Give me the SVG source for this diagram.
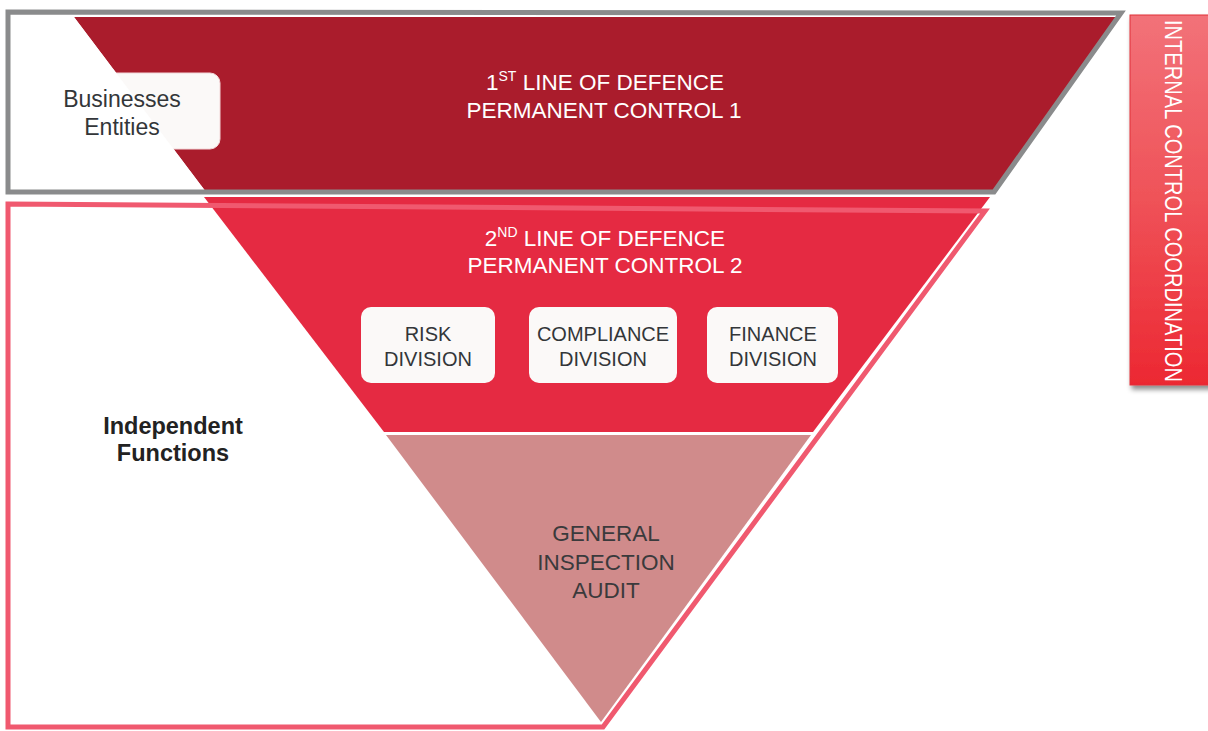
<svg xmlns="http://www.w3.org/2000/svg" width="1208" height="731" viewBox="0 0 1208 731">
<defs>
<linearGradient id="icc" x1="0" y1="0" x2="0" y2="1">
<stop offset="0" stop-color="#f27279"/>
<stop offset="0.5" stop-color="#ef5258"/>
<stop offset="1" stop-color="#ec2832"/>
</linearGradient>
<filter id="sh" x="-20%" y="-5%" width="150%" height="115%">
<feDropShadow dx="2" dy="4" stdDeviation="2.5" flood-color="#000" flood-opacity="0.45"/>
</filter>
<style>
.t{font-family:"Liberation Sans",Arial,sans-serif;}
.w{fill:#ffffff;font-size:22.5px;}
.d{fill:#333639;font-size:20px;}
.box{fill:#fbf9f8;stroke:#f2d6d8;stroke-width:1;}
</style>
</defs>
<rect width="1208" height="731" fill="#ffffff"/>

<g id="first-line">
<polygon points="74,17 1119,17 993,192 206,192" fill="#aa1c2c"/>
<text class="t w" x="605" y="90" text-anchor="middle">1<tspan font-size="14" dy="-9">ST</tspan><tspan dy="9"> LINE OF DEFENCE</tspan></text>
<text class="t w" x="604" y="118" text-anchor="middle">PERMANENT CONTROL 1</text>
</g>

<g id="businesses">
<rect class="box" x="40" y="73" width="180" height="76" rx="10"/>
<polygon points="0,40 74,17 206,192 0,192" fill="#ffffff"/>
<polygon points="8,12 1121,13 994,192 8,192" fill="none" stroke="#8a8b8c" stroke-width="5"/>
<text class="t" x="122" y="107" text-anchor="middle" font-size="23" fill="#333639">Businesses</text>
<text class="t" x="122" y="135" text-anchor="middle" font-size="23" fill="#333639">Entities</text>
</g>

<g id="second-line">
<polygon points="204,197 990,197 813,432 384,432" fill="#e52a42"/>
<polygon points="8,204 985,211 603,727 8,727" fill="none" stroke="#f0596f" stroke-width="5" stroke-linejoin="miter"/>
<text class="t w" x="605" y="246" text-anchor="middle">2<tspan font-size="14" dy="-9">ND</tspan><tspan dy="9"> LINE OF DEFENCE</tspan></text>
<text class="t w" x="605" y="273" text-anchor="middle">PERMANENT CONTROL 2</text>
</g>

<g id="risk">
<rect x="361" y="307" width="134" height="76" rx="10" fill="#fbf9f8"/>
<text class="t d" x="428" y="341" text-anchor="middle">RISK</text>
<text class="t d" x="428" y="366" text-anchor="middle">DIVISION</text>
</g>
<g id="compliance">
<rect x="529" y="307" width="148" height="76" rx="10" fill="#fbf9f8"/>
<text class="t d" x="603" y="341" text-anchor="middle">COMPLIANCE</text>
<text class="t d" x="603" y="366" text-anchor="middle">DIVISION</text>
</g>
<g id="finance">
<rect x="707" y="307" width="131" height="76" rx="10" fill="#fbf9f8"/>
<text class="t d" x="773" y="341" text-anchor="middle">FINANCE</text>
<text class="t d" x="773" y="366" text-anchor="middle">DIVISION</text>
</g>

<g id="audit">
<polygon points="386,435 811,435 601,722" fill="#d08b8b"/>
<text class="t" x="606" y="541" text-anchor="middle" font-size="22.5" fill="#3a3a3c">GENERAL</text>
<text class="t" x="606" y="570" text-anchor="middle" font-size="22.5" fill="#3a3a3c">INSPECTION</text>
<text class="t" x="606" y="598" text-anchor="middle" font-size="22.5" fill="#3a3a3c">AUDIT</text>
</g>

<g id="independent">
<text class="t" x="173" y="434" text-anchor="middle" font-size="23.5" font-weight="bold" fill="#222222">Independent</text>
<text class="t" x="173" y="461" text-anchor="middle" font-size="23.5" font-weight="bold" fill="#222222">Functions</text>
</g>

<g id="internal-control">
<rect x="1130" y="15" width="84" height="370" fill="url(#icc)" stroke="#e0303a" stroke-width="1" filter="url(#sh)"/>
<text class="t" transform="translate(1165,20) rotate(90)" font-size="24" fill="#ffffff" textLength="362" lengthAdjust="spacingAndGlyphs">INTERNAL CONTROL COORDINATION</text>
</g>

<g id="connectors"></g>
</svg>
